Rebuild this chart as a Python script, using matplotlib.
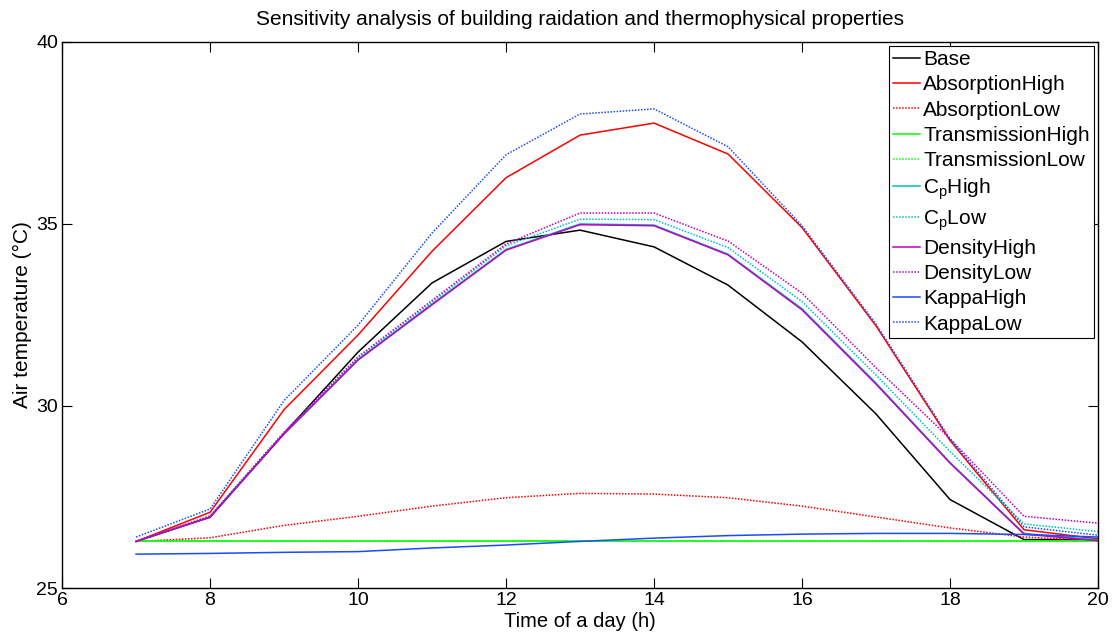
import matplotlib
matplotlib.use('Agg')
import matplotlib.pyplot as plt

plt.rcParams['font.family'] = ['Liberation Sans', 'DejaVu Sans']
plt.rcParams['mathtext.default'] = 'regular'

# hours of the day
hours = [7, 8, 9, 10, 11, 12, 13, 14, 15, 16, 17, 18, 19, 20]

# air temperature (degC) for each case
base = [26.28, 26.95, 29.25, 31.48, 33.38, 34.52, 34.83, 34.37, 33.32, 31.76, 29.78, 27.43, 26.33, 26.33]
absorption_high = [26.28, 27.08, 29.9, 31.95, 34.25, 36.27, 37.44, 37.77, 36.92, 34.9, 32.2, 29.05, 26.6, 26.35]
absorption_low = [26.28, 26.38, 26.72, 26.97, 27.25, 27.48, 27.6, 27.58, 27.48, 27.25, 26.95, 26.65, 26.4, 26.3]
transmission_high = [26.28, 26.28, 26.28, 26.28, 26.28, 26.28, 26.28, 26.28, 26.28, 26.28, 26.28, 26.28, 26.28, 26.28]
transmission_low = [26.28, 26.28, 26.28, 26.28, 26.28, 26.28, 26.28, 26.28, 26.28, 26.28, 26.28, 26.28, 26.28, 26.28]
cp_high = [26.28, 26.95, 29.24, 31.28, 32.8, 34.3, 35.0, 34.97, 34.17, 32.67, 30.63, 28.45, 26.5, 26.32]
cp_low = [26.28, 26.97, 29.26, 31.32, 32.85, 34.4, 35.13, 35.12, 34.35, 32.87, 30.85, 28.75, 26.76, 26.55]
density_high = [26.28, 26.94, 29.23, 31.26, 32.78, 34.28, 34.98, 34.95, 34.15, 32.64, 30.6, 28.43, 26.48, 26.3]
density_low = [26.28, 26.98, 29.28, 31.35, 32.9, 34.45, 35.3, 35.3, 34.53, 33.1, 31.05, 29.1, 26.97, 26.78]
kappa_high = [25.93, 25.95, 25.98, 26.0, 26.1, 26.18, 26.28, 26.37, 26.44, 26.48, 26.5, 26.5, 26.47, 26.4]
kappa_low = [26.4, 27.17, 30.15, 32.22, 34.75, 36.9, 38.02, 38.16, 37.12, 34.95, 32.25, 29.1, 26.68, 26.45]

blue = '#1a4cff'
dot = (0, (1, 1))

fig = plt.figure(figsize=(11.16, 6.35), dpi=100)
ax = fig.add_axes([0.0556, 0.074, 0.9283, 0.86])

lw = 1.1
ax.plot(hours, base, color='k', lw=lw, label='Base')
ax.plot(hours, absorption_high, color='r', lw=lw, label='AbsorptionHigh')
ax.plot(hours, absorption_low, color='r', lw=lw, ls=dot, label='AbsorptionLow')
ax.plot(hours, transmission_high, color='#00ff00', lw=lw, label='TransmissionHigh')
ax.plot(hours, transmission_low, color='#00ff00', lw=lw, ls=dot, label='TransmissionLow')
ax.plot(hours, cp_high, color='c', lw=lw, label='$C_p$High')
ax.plot(hours, cp_low, color='c', lw=lw, ls=dot, label='$C_p$Low')
ax.plot(hours, density_high, color='m', lw=lw, label='DensityHigh')
ax.plot(hours, density_low, color='m', lw=lw, ls=dot, label='DensityLow')
ax.plot(hours, kappa_high, color=blue, lw=lw, label='KappaHigh')
ax.plot(hours, kappa_low, color=blue, lw=lw, ls=dot, label='KappaLow')

ax.set_xlim(6, 20)
ax.set_ylim(25, 40)
ax.set_xticks([6, 8, 10, 12, 14, 16, 18, 20])
ax.set_yticks([25, 30, 35, 40])
ax.tick_params(direction='in', length=7, width=0.8, labelsize=14, top=True, right=True, pad=3)
for s in ax.spines.values():
    s.set_linewidth(1.0)

ax.set_title('Sensitivity analysis of building raidation and thermophysical properties', fontsize=15, pad=12)
ax.set_xlabel('Time of a day (h)', fontsize=14.5, labelpad=2)
ax.set_ylabel('Air temperature (°C)', fontsize=15, labelpad=3)

leg = ax.legend(loc='upper right', fontsize=15, frameon=True, fancybox=False, framealpha=1,
                edgecolor='k', handlelength=1.3, handletextpad=0.15, labelspacing=0.3,
                borderpad=0.2, borderaxespad=0.2)
leg.get_frame().set_linewidth(0.8)

fig.savefig('out.png', dpi=100)
